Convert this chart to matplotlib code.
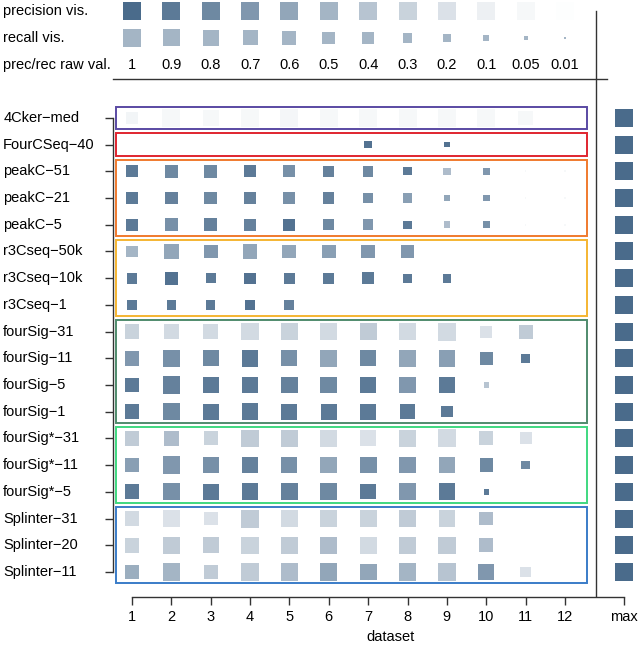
import numpy as np
import matplotlib
matplotlib.use("Agg")
import matplotlib.pyplot as plt
from matplotlib.patches import Rectangle
from matplotlib.transforms import blended_transform_factory

nan = np.nan

methods = ["4Cker\u2212med", "FourCSeq\u221240", "peakC\u221251", "peakC\u221221", "peakC\u22125",
           "r3Cseq\u221250k", "r3Cseq\u221210k", "r3Cseq\u22121",
           "fourSig\u221231", "fourSig\u221211", "fourSig\u22125", "fourSig\u22121",
           "fourSig*\u221231", "fourSig*\u221211", "fourSig*\u22125",
           "Splinter\u221231", "Splinter\u221220", "Splinter\u221211"]
datasets = np.arange(1, 13)

# recall per method (rows) and dataset (columns) -> square area
recall = np.array([
    [0.44, 1.0, 0.79, 1.0, 1.0, 1.0, 1.0, 1.0, 1.0, 1.0, 0.66, nan],
    [nan, nan, nan, nan, nan, nan, 0.17, nan, 0.09, nan, nan, nan],
    [0.44, 0.5, 0.5, 0.44, 0.44, 0.4, 0.35, 0.2, 0.17, 0.14, 0.01, 0.01],
    [0.44, 0.5, 0.5, 0.44, 0.44, 0.4, 0.35, 0.27, 0.14, 0.14, 0.01, 0.01],
    [0.44, 0.5, 0.5, 0.44, 0.44, 0.4, 0.35, 0.2, 0.14, 0.14, 0.01, 0.01],
    [0.44, 0.66, 0.6, 0.66, 0.6, 0.6, 0.6, 0.6, nan, nan, nan, nan],
    [0.35, 0.5, 0.31, 0.4, 0.4, 0.4, 0.44, 0.27, 0.23, nan, nan, nan],
    [0.27, 0.27, 0.27, 0.35, 0.31, nan, nan, nan, nan, nan, nan, nan],
    [0.66, 0.73, 0.73, 0.93, 0.93, 0.86, 0.86, 0.93, 1.0, 0.44, 0.6, nan],
    [0.66, 0.93, 0.79, 0.86, 0.79, 0.86, 0.79, 0.86, 0.86, 0.55, 0.23, nan],
    [0.66, 0.93, 0.79, 0.86, 0.86, 0.86, 0.73, 0.86, 0.86, 0.09, nan, nan],
    [0.66, 0.93, 0.79, 0.86, 0.79, 0.79, 0.79, 0.66, 0.4, nan, nan, nan],
    [0.66, 0.73, 0.6, 0.93, 0.93, 0.86, 0.79, 0.93, 1.0, 0.6, 0.44, nan],
    [0.66, 0.93, 0.79, 0.86, 0.79, 0.86, 0.86, 0.86, 0.86, 0.55, 0.23, nan],
    [0.66, 0.93, 0.79, 0.86, 0.86, 0.86, 0.73, 0.86, 0.86, 0.09, nan, nan],
    [0.66, 0.93, 0.6, 1.0, 0.93, 0.93, 0.86, 0.93, 0.86, 0.6, nan, nan],
    [0.66, 0.93, 0.79, 0.93, 0.93, 0.93, 0.86, 0.93, 0.93, 0.6, nan, nan],
    [0.66, 0.93, 0.6, 0.93, 0.93, 0.93, 0.86, 0.93, 0.93, 0.79, 0.35, nan],
])

# precision per method and dataset -> square colour
precision = np.array([
    [0.07, 0.05, 0.05, 0.05, 0.06, 0.05, 0.05, 0.05, 0.05, 0.05, 0.05, nan],
    [nan, nan, nan, nan, nan, nan, 0.95, nan, 0.95, nan, nan, nan],
    [0.9, 0.8, 0.8, 0.9, 0.75, 0.85, 0.8, 0.9, 0.45, 0.7, 0.05, 0.05],
    [0.9, 0.85, 0.8, 0.85, 0.75, 0.85, 0.75, 0.65, 0.6, 0.7, 0.05, 0.05],
    [0.9, 0.75, 0.85, 0.85, 0.95, 0.8, 0.7, 0.9, 0.45, 0.75, 0.05, 0.05],
    [0.5, 0.6, 0.7, 0.6, 0.6, 0.65, 0.7, 0.7, nan, nan, nan, nan],
    [0.9, 0.95, 0.9, 0.95, 0.9, 0.9, 0.9, 0.9, 0.9, nan, nan, nan],
    [0.9, 0.9, 0.9, 0.95, 0.85, nan, nan, nan, nan, nan, nan, nan],
    [0.3, 0.25, 0.25, 0.25, 0.3, 0.25, 0.35, 0.25, 0.25, 0.2, 0.35, nan],
    [0.7, 0.75, 0.8, 0.9, 0.75, 0.6, 0.8, 0.6, 0.65, 0.8, 0.9, nan],
    [0.9, 0.85, 0.9, 0.9, 0.85, 0.8, 0.9, 0.7, 0.9, 0.4, nan, nan],
    [0.9, 0.8, 0.9, 0.9, 0.9, 0.9, 0.9, 0.9, 0.9, nan, nan, nan],
    [0.35, 0.45, 0.3, 0.35, 0.35, 0.25, 0.2, 0.3, 0.25, 0.3, 0.2, nan],
    [0.65, 0.7, 0.75, 0.85, 0.75, 0.6, 0.75, 0.7, 0.6, 0.8, 0.8, nan],
    [0.9, 0.75, 0.9, 0.9, 0.85, 0.8, 0.9, 0.7, 0.9, 0.9, nan, nan],
    [0.25, 0.2, 0.2, 0.35, 0.25, 0.3, 0.3, 0.35, 0.3, 0.45, nan, nan],
    [0.3, 0.35, 0.35, 0.3, 0.35, 0.45, 0.25, 0.35, 0.35, 0.45, nan, nan],
    [0.55, 0.5, 0.35, 0.35, 0.45, 0.6, 0.6, 0.5, 0.4, 0.7, 0.2, nan],
])

max_prec = [1.0] * 18
max_rec = [1.0] * 18

# method groups: first row, last row, frame colour
groups = [(0, 0, "#5a4aa3"), (1, 1, "#e0252f"), (2, 4, "#f07a2e"), (5, 7, "#f5b532"),
          (8, 11, "#4f8b6d"), (12, 14, "#3fd880"), (15, 17, "#3a7cc8")]

legend_vals = [1, 0.9, 0.8, 0.7, 0.6, 0.5, 0.4, 0.3, 0.2, 0.1, 0.05, 0.01]
legend_labels = ["1", "0.9", "0.8", "0.7", "0.6", "0.5", "0.4", "0.3", "0.2", "0.1", "0.05", "0.01"]

base = np.array([0.29, 0.42, 0.545])
FULL = 168.0  # marker area (pt^2) of a recall-1 square


def shade(p):
    p = np.atleast_1d(np.asarray(p, dtype=float))
    return 1 - p[:, None] * (1 - base[None, :])


plt.rcParams['font.family'] = ['Liberation Sans', 'DejaVu Sans']
fig = plt.figure(figsize=(6.43, 6.48), dpi=100)
ax = fig.add_axes([0, 0, 1, 1])
ax.set_xlim(-2.354, 13.983)
ax.set_ylim(19.85, -4.419)
axis_col = "#333333"

# cells
for i in range(len(methods)):
    ok = ~np.isnan(recall[i])
    ax.scatter(datasets[ok], np.full(ok.sum(), i), s=FULL * recall[i][ok], marker='s',
               c=shade(precision[i][ok]), linewidths=0, zorder=3)
ax.scatter(np.full(18, 13.5), np.arange(18), s=FULL * np.array(max_rec), marker='s',
           c=shade(max_prec), linewidths=0, zorder=3)

# group frames
for first, last, col in groups:
    ax.add_patch(Rectangle((0.6, first - 0.43), 11.95, last - first + 0.86,
                           fill=False, edgecolor=col, lw=1.4, zorder=2))

# legend rows on top
ax.scatter(datasets, np.full(12, -4), s=FULL, marker='s', c=shade(legend_vals), linewidths=0)
ax.scatter(datasets, np.full(12, -3), s=FULL * np.array(legend_vals), marker='s',
           c=shade(np.full(12, 0.5)), linewidths=0)
for x, lab in zip(datasets, legend_labels):
    ax.text(x, -2, lab, ha='center', va='center', fontsize=10.5)

trans = blended_transform_factory(ax.transAxes, ax.transData)
for y, lab in zip([-4, -3, -2], ["precision vis.", "recall vis.", "prec/rec raw val."]):
    ax.text(0.005, y, lab, transform=trans, ha='left', va='center', fontsize=10.5)
for i, name in enumerate(methods):
    ax.text(0.005, i, name, transform=trans, ha='left', va='center', fontsize=10.5)

# separators
ax.plot([0.517, 13.07], [-1.46, -1.46], color=axis_col, lw=1)
ax.plot([12.79, 12.79], [-4, 17.9], color=axis_col, lw=1)

# axes
for s in ["top", "right"]:
    ax.spines[s].set_visible(False)
ax.spines["left"].set_position(("data", 0.517))
ax.spines["left"].set_bounds(0, 17)
ax.spines["bottom"].set_position(("data", 17.94))
ax.spines["bottom"].set_bounds(1, 13.5)
for s in ["left", "bottom"]:
    ax.spines[s].set_color(axis_col)
    ax.spines[s].set_linewidth(1)
ax.set_xticks(list(datasets) + [13.5], labels=[str(d) for d in datasets] + ["max"])
ax.set_yticks(np.arange(18), labels=[""] * 18)
ax.tick_params(direction='out', length=6, width=1, color=axis_col, labelsize=10.5, pad=3)
ax.text(7.58, 19.44, "dataset", ha='center', va='center', fontsize=10.5)

fig.savefig("out.png", dpi=100)
